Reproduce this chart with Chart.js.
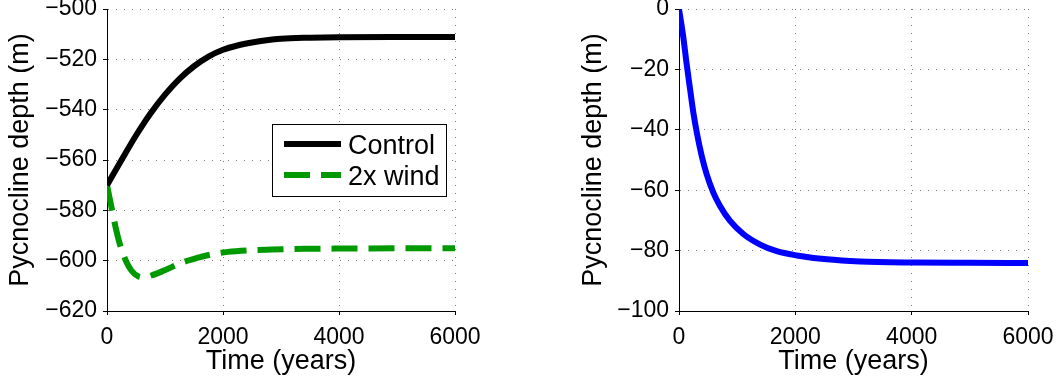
<!DOCTYPE html>
<html>
<head>
<meta charset="utf-8">
<script src="https://cdn.jsdelivr.net/npm/chart.js@4/dist/chart.umd.min.js"></script>
<style>
  html, body { margin: 0; padding: 0; background: #fff; }
  #wrap { position: relative; width: 1057px; height: 383px; overflow: hidden; }
  canvas { position: absolute; top: 0; }
  #depthChart { left: 0; }
  #diffChart { left: 560px; }
</style>
</head>
<body>
<div id="wrap">
  <canvas id="depthChart" width="480" height="383"></canvas>
  <canvas id="diffChart" width="497" height="383"></canvas>
</div>
<script>
// Pycnocline depth (m) over time (years): control run and doubled wind stress
const controlYears = [0, 250, 500, 750, 1000, 1250, 1500, 1750, 2000, 2250, 2500, 2750, 3000, 3500, 4000, 5000, 6000];
const controlDepth = [-570, -560, -550.25, -541.5, -534, -527.75, -522.75, -518.9, -516.2, -514.5, -513.3, -512.4, -511.8, -511.4, -511.2, -511.1, -511.1];

const windYears = [0, 75, 160, 235, 335, 420, 535, 650, 765, 995, 1280, 1570, 1800, 2085, 2430, 2835, 3410, 4000, 5000, 6000];
const windDepth = [-570, -578.5, -587.9, -594.5, -600.5, -603.9, -606.2, -606.6, -605.9, -603.8, -600.9, -598.8, -597.5, -596.5, -595.9, -595.6, -595.3, -595.2, -595.1, -595.1];

// Change in pycnocline depth (2x wind relative to control)
const changeYears = [0, 75, 130, 190, 245, 305, 390, 475, 590, 705, 875, 1105, 1395, 1680, 2025, 2540, 3110, 4000, 5000, 6000];
const changeDepth = [0, -9.5, -18, -26.5, -34.1, -40.8, -48.6, -54.7, -60.8, -65.2, -70.1, -74.5, -78.0, -80.2, -81.6, -82.9, -83.6, -83.95, -84.05, -84.1];

// Axis tick values
const timeTicks = [0, 2000, 4000, 6000];
const depthTicks = [-620, -600, -580, -560, -540, -520, -500];
const changeTicks = [-100, -80, -60, -40, -20, 0];

const seriesNames = ['Control', '2x wind'];

const FONT = "'Liberation Sans', Arial, Helvetica, sans-serif";

function toPoints(xs, ys) {
  return xs.map((x, i) => ({ x: x, y: ys[i] }));
}

function fmtTick(v) {
  return v < 0 ? '\u2212' + Math.abs(v) : String(v);
}

// Boxed legend drawn inside the plot area from the chart's own datasets
const boxLegend = {
  id: 'boxLegend',
  afterDatasetsDraw(chart, args, opts) {
    if (!opts || !opts.display) return;
    const { ctx, chartArea: a } = chart;
    const right = a.right - opts.marginRight;
    const left = right - opts.width;
    const top = a.top + opts.marginTop;
    ctx.save();
    ctx.fillStyle = '#fff';
    ctx.fillRect(left, top, opts.width, opts.height);
    ctx.lineWidth = 1;
    ctx.strokeStyle = '#000';
    ctx.setLineDash([]);
    ctx.strokeRect(Math.round(left) + 0.5, Math.round(top) + 0.5, Math.round(opts.width), Math.round(opts.height));
    chart.data.datasets.forEach((ds, i) => {
      const base = top + opts.firstBaseline + i * opts.rowGap;
      const ly = base - opts.lineRaise;
      ctx.beginPath();
      ctx.lineWidth = ds.borderWidth;
      ctx.strokeStyle = ds.borderColor;
      ctx.lineCap = 'butt';
      ctx.setLineDash(ds.borderDash || []);
      ctx.moveTo(left + opts.lineStart, ly);
      ctx.lineTo(left + opts.lineEnd, ly);
      ctx.stroke();
      ctx.setLineDash([]);
      ctx.fillStyle = '#000';
      ctx.font = opts.fontSize + 'px ' + FONT;
      ctx.textAlign = 'left';
      ctx.textBaseline = 'alphabetic';
      ctx.fillText(ds.label, left + opts.textStart, base);
    });
    ctx.restore();
  }
};

function makeScales(yTicks, yWidth, yTitlePad) {
  const gridStyle = {
    display: true,
    drawOnChartArea: true,
    drawTicks: true,
    color: '#777',
    lineWidth: 1,
    tickLength: 4,
    tickColor: '#000',
    tickWidth: 1,
    tickBorderDash: []
  };
  const borderStyle = { display: true, color: '#000', width: 1, dash: [1, 7] };
  return {
    x: {
      type: 'linear',
      min: timeTicks[0],
      max: timeTicks[timeTicks.length - 1],
      afterBuildTicks: s => { s.ticks = timeTicks.map(v => ({ value: v })); },
      afterFit: s => { s.height = 72; s.paddingLeft = 0; s.paddingRight = 0; },
      grid: gridStyle,
      border: borderStyle,
      ticks: {
        font: { family: FONT, size: 23 },
        color: '#000',
        padding: 9,
        maxRotation: 0,
        autoSkip: false,
        callback: fmtTick
      },
      title: {
        display: true,
        text: 'Time (years)',
        color: '#000',
        font: { family: FONT, size: 27, lineHeight: 1.2 },
        padding: { top: 0, bottom: 5 }
      }
    },
    y: {
      type: 'linear',
      min: yTicks[0],
      max: yTicks[yTicks.length - 1],
      afterBuildTicks: s => { s.ticks = yTicks.map(v => ({ value: v })); },
      afterFit: s => { s.width = yWidth; s.paddingTop = 0; s.paddingBottom = 0; },
      grid: gridStyle,
      border: borderStyle,
      ticks: {
        font: { family: FONT, size: 23 },
        color: '#000',
        padding: 6,
        autoSkip: false,
        callback: fmtTick
      },
      title: {
        display: true,
        text: 'Pycnocline depth (m)',
        color: '#000',
        font: { family: FONT, size: 27, lineHeight: 1.2 },
        padding: { top: yTitlePad, bottom: 0 }
      }
    }
  };
}

function lineDataset(label, xs, ys, color, dash) {
  return {
    label: label,
    data: toPoints(xs, ys),
    borderColor: color,
    backgroundColor: color,
    borderWidth: 6,
    borderDash: dash,
    borderCapStyle: 'butt',
    borderJoinStyle: 'round',
    pointRadius: 0,
    pointHoverRadius: 0,
    fill: false,
    cubicInterpolationMode: 'monotone',
    clip: 0
  };
}

const commonOpts = {
  responsive: false,
  animation: false,
  devicePixelRatio: 1,
  events: []
};

new Chart(document.getElementById('depthChart'), {
  type: 'line',
  data: {
    datasets: [
      lineDataset(seriesNames[0], controlYears, controlDepth, '#000000', []),
      lineDataset(seriesNames[1], windYears, windDepth, '#009900', [26, 11])
    ]
  },
  options: Object.assign({}, commonOpts, {
    layout: { padding: { top: 9, right: 25, bottom: 0, left: 0 } },
    scales: makeScales(depthTicks, 107, 4),
    plugins: {
      legend: { display: false },
      tooltip: { enabled: false },
      boxLegend: {
        display: true,
        marginRight: 9,
        marginTop: 115,
        width: 174,
        height: 72,
        lineStart: 12,
        lineEnd: 69,
        textStart: 76,
        firstBaseline: 30,
        rowGap: 31,
        lineRaise: 10,
        fontSize: 27
      }
    }
  }),
  plugins: [boxLegend]
});

new Chart(document.getElementById('diffChart'), {
  type: 'line',
  data: {
    datasets: [
      lineDataset('2x wind \u2212 Control', changeYears, changeDepth, '#0000ff', [])
    ]
  },
  options: Object.assign({}, commonOpts, {
    layout: { padding: { top: 9, right: 29, bottom: 0, left: 0 } },
    scales: makeScales(changeTicks, 119, 17),
    plugins: {
      legend: { display: false },
      tooltip: { enabled: false }
    }
  })
});
</script>
</body>
</html>
